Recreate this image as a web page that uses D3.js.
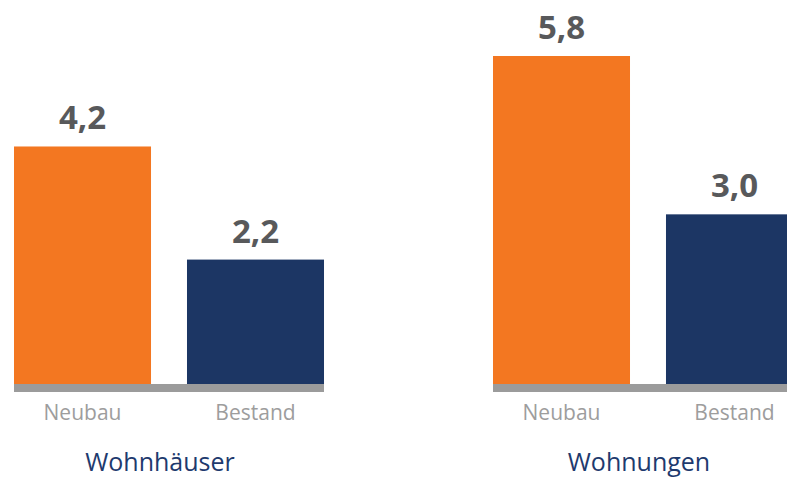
<html>
 <head>
  <meta charset="utf-8">
  <script src="https://cdn.jsdelivr.net/npm/d3@7"></script>
  <style>
    body { margin: 0; background: #fff; }
    svg { display: block; font-family: "Open Sans", sans-serif; }
  </style>
 </head>
 <body>
  <div id="chart"></div>
  <script>
    // data
    var groups = ["Wohnhäuser", "Wohnungen"];
    var kinds = ["Neubau", "Bestand"];
    var neubau = [4.2, 5.8];
    var bestand = [2.2, 3.0];
    var colors = ["#f37721", "#1c3664"];

    var w = 787, h = 481;
    var base = 384;

    var svg = d3.select("#chart").append("svg").attr("width", w).attr("height", h);

    var x0 = d3.scaleBand().domain(groups).range([14, 803]).paddingInner(0.3528).paddingOuter(0);
    var x1 = d3.scaleBand().domain(kinds).range([0, x0.bandwidth()]).paddingInner(0.208).paddingOuter(0);
    var y = d3.scaleLinear().domain([0, 5.8]).range([base, 56]);

    var rows = [];
    groups.forEach(function(g, i) {
      rows.push({ g: g, k: "Neubau", v: neubau[i] });
      rows.push({ g: g, k: "Bestand", v: bestand[i] });
    });

    var fmt = function(v) { return d3.format(".1f")(v).replace(".", ","); };

    // bars
    svg.selectAll("rect.bar").data(rows).enter().append("rect")
      .attr("class", "bar")
      .attr("x", function(d) { return x0(d.g) + x1(d.k); })
      .attr("y", function(d) { return y(d.v); })
      .attr("width", x1.bandwidth())
      .attr("height", function(d) { return base - y(d.v); })
      .attr("fill", function(d) { return colors[kinds.indexOf(d.k)]; });

    // grey baseline per group
    svg.selectAll("rect.axis").data(groups).enter().append("rect")
      .attr("class", "axis")
      .attr("x", function(g) { return x0(g); })
      .attr("y", base)
      .attr("width", x0.bandwidth())
      .attr("height", 8)
      .attr("fill", "#9b9b9b");

    // value labels
    svg.selectAll("text.val").data(rows).enter().append("text")
      .attr("class", "val")
      .attr("x", function(d) { return x0(d.g) + x1(d.k) + x1.bandwidth() / 2; })
      .attr("y", function(d) { return y(d.v) - 17; })
      .attr("text-anchor", "middle")
      .attr("font-size", 33)
      .attr("font-weight", "bold")
      .attr("fill", "#58595b")
      .text(function(d) { return fmt(d.v); });

    // category labels
    svg.selectAll("text.cat").data(rows).enter().append("text")
      .attr("class", "cat")
      .attr("x", function(d) { return x0(d.g) + x1(d.k) + x1.bandwidth() / 2; })
      .attr("y", 420)
      .attr("text-anchor", "middle")
      .attr("font-size", 21)
      .attr("fill", "#9d9d9d")
      .text(function(d) { return d.k; });

    // group titles
    svg.selectAll("text.grp").data(groups).enter().append("text")
      .attr("class", "grp")
      .attr("x", function(g) { return x0(g) + x0.bandwidth() / 2 - 9; })
      .attr("y", 471)
      .attr("text-anchor", "middle")
      .attr("font-size", 25)
      .attr("fill", "#1e3a6e")
      .text(function(g) { return g; });
  </script>
 </body>
</html>
